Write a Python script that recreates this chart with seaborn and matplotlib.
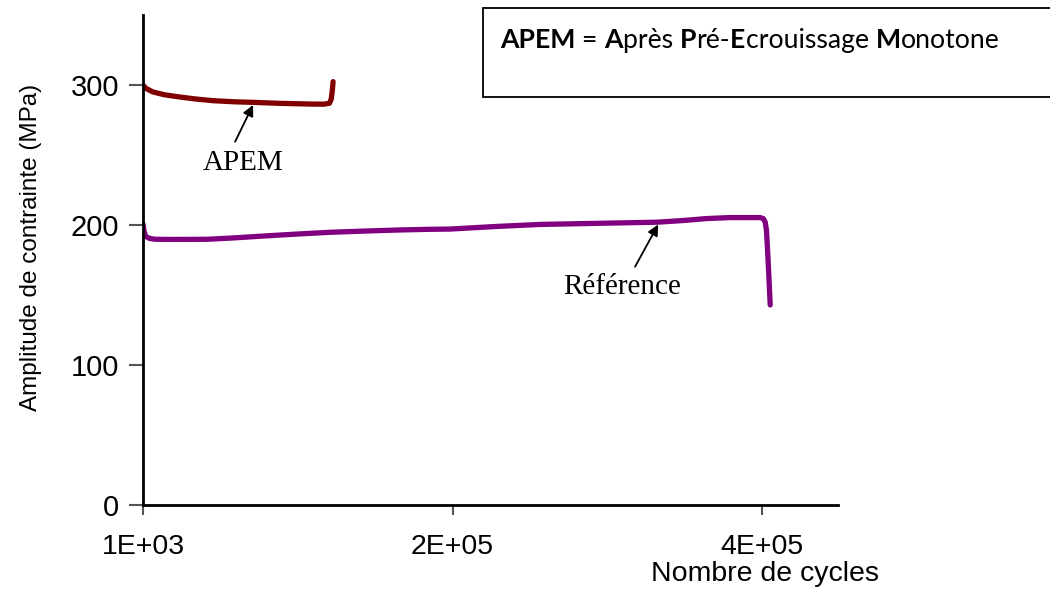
import matplotlib
matplotlib.use("Agg")
import matplotlib.pyplot as plt
import matplotlib.patches as mpatches
import seaborn as sns
import pandas as pd

# ---- data ----
apem_cycles = [1000, 3000, 7500, 15000, 24900, 35000, 46200, 60000, 72100, 89500,
               108900, 118000, 121500, 122600, 123300, 123800]
apem_stress = [300.0, 297.5, 295.0, 293.0, 291.4, 290.0, 288.8, 288.0, 287.6, 286.9,
               286.4, 286.3, 287.0, 290.0, 296.0, 302.4]

ref_cycles = [1000, 1600, 2600, 5000, 8750, 20000, 42400, 60000, 78500, 100000,
              121800, 145000, 165100, 185000, 199400, 230000, 257500, 300000,
              333100, 350000, 365000, 380000, 399700, 401800, 403000, 403800,
              404600, 405400, 406200]
ref_stress = [200.7, 196.0, 192.0, 190.5, 189.8, 189.7, 189.8, 190.8, 192.1, 193.5,
              194.8, 195.7, 196.4, 196.9, 197.1, 199.0, 200.4, 201.3,
              202.0, 203.2, 204.6, 205.3, 205.3, 204.5, 202.0, 196.0,
              180.0, 162.0, 142.9]

x_ticks = [1000, 201000, 401000]
x_tick_labels = ["1E+03", "2E+05", "4E+05"]
y_ticks = [0, 100, 200, 300]
y_tick_labels = ["0", "100", "200", "300"]

x_label = "Nombre de cycles"
y_label = "Amplitude de contrainte (MPa)"
box_parts = [("APEM", "bold"), (" = ", "normal"), ("A", "bold"), ("près ", "normal"),
             ("P", "bold"), ("ré-", "normal"), ("E", "bold"), ("crouissage ", "normal"),
             ("M", "bold"), ("onotone", "normal")]

df_apem = pd.DataFrame({"cycles": apem_cycles, "stress": apem_stress})
df_ref = pd.DataFrame({"cycles": ref_cycles, "stress": ref_stress})

sns.set_style("white")
plt.rcParams["font.family"] = ["Liberation Sans", "DejaVu Sans"]
plt.rcParams["text.color"] = "black"
plt.rcParams["axes.labelcolor"] = "black"
plt.rcParams["xtick.labelcolor"] = "black"
plt.rcParams["ytick.labelcolor"] = "black"

fig = plt.figure(figsize=(10.5, 5.9), dpi=100)
ax = fig.add_axes([143 / 1050, 85 / 590, 695 / 1050, 490 / 590])

apem_color = "#800000"
ref_color = "#800080"

sns.lineplot(data=df_apem, x="cycles", y="stress", ax=ax, color=apem_color,
             linewidth=3.8, sort=False, estimator=None, solid_capstyle="round",
             solid_joinstyle="round")
sns.lineplot(data=df_ref, x="cycles", y="stress", ax=ax, color=ref_color,
             linewidth=3.8, sort=False, estimator=None, solid_capstyle="round",
             solid_joinstyle="round")

ax.set_xlim(1000, 450000)
ax.set_ylim(0, 350)
ax.set_xticks(x_ticks)
ax.set_xticklabels(x_tick_labels)
ax.set_yticks(y_ticks)
ax.set_yticklabels(y_tick_labels)

for side in ["top", "right"]:
    ax.spines[side].set_visible(False)
for side in ["left", "bottom"]:
    ax.spines[side].set_color("black")
    ax.spines[side].set_linewidth(2.0)

ax.tick_params(axis="x", direction="out", length=7, width=1.5, color="#555555",
               labelsize=20.5, pad=14, bottom=True, labelcolor="black")
ax.tick_params(axis="y", direction="out", length=10, width=1.5, color="#555555",
               labelsize=21, pad=7, left=True, labelcolor="black")

ax.set_xlabel(x_label, fontsize=20.5, va="center", color="black")
ax.xaxis.set_label_coords((765 - 143) / 695, -(574 - 505) / 490)
ax.set_ylabel(y_label, fontsize=17.5, color="black")
ax.yaxis.set_label_coords((42 - 143) / 695, (505 - 247) / 490)

# annotations
serif = ["Liberation Serif", "DejaVu Serif"]
ax.annotate("", xy=(72100, 285.7), xytext=(60500, 259.5), textcoords="data",
            arrowprops=dict(arrowstyle="-|>", color="black", lw=1.3,
                            mutation_scale=16, shrinkA=0, shrinkB=0))
ax.text(65600, 244.3, "APEM", family=serif, fontsize=21, ha="center", va="center",
        color="black")
ax.annotate("", xy=(333800, 200.3), xytext=(318900, 170.2), textcoords="data",
            arrowprops=dict(arrowstyle="-|>", color="black", lw=1.3,
                            mutation_scale=16, shrinkA=0, shrinkB=0))
ax.text(310300, 155.5, "Référence", family=serif, fontsize=21, ha="center", va="center",
        color="black")

# legend-like box at the top right
box = mpatches.Rectangle((483 / 1050, (590 - 97) / 590), 0.6, 89 / 590,
                         transform=fig.transFigure, facecolor="white",
                         edgecolor="black", linewidth=1.3, clip_on=False)
fig.patches.append(box)

fig.canvas.draw()
renderer = fig.canvas.get_renderer()
x_px = 500.0
y_fig = (590 - 48) / 590
for txt, weight in box_parts:
    t = fig.text(x_px / 1050, y_fig, txt, fontsize=19.2, fontweight=weight,
                 family=["Lato", "DejaVu Sans"], ha="left", va="baseline",
                 color="black")
    bb = t.get_window_extent(renderer=renderer)
    x_px += bb.width

fig.savefig("out.png", dpi=100)
